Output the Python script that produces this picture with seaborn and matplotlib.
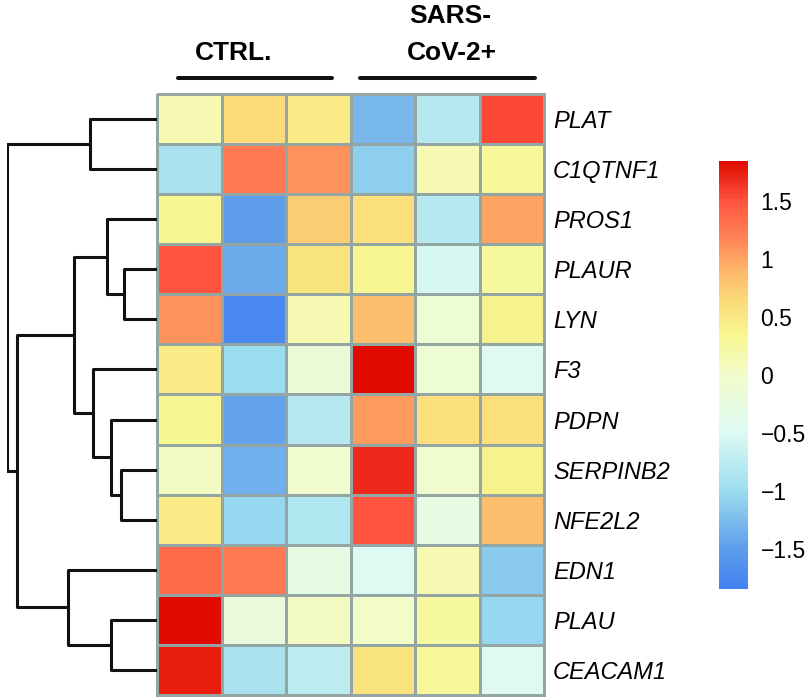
import numpy as np
import pandas as pd
import seaborn as sns
import matplotlib.pyplot as plt
from matplotlib.colors import LinearSegmentedColormap
from matplotlib.lines import Line2D

genes = ["PLAT", "C1QTNF1", "PROS1", "PLAUR", "LYN", "F3", "PDPN",
         "SERPINB2", "NFE2L2", "EDN1", "PLAU", "CEACAM1"]
samples = ["CTRL_1", "CTRL_2", "CTRL_3", "COV_1", "COV_2", "COV_3"]

plat = [0.15, 0.65, 0.45, -1.3, -0.8, 1.55]
c1qtnf1 = [-0.9, 1.25, 1.1, -1.1, 0.15, 0.3]
pros1 = [0.35, -1.5, 0.75, 0.6, -0.8, 1.0]
plaur = [1.5, -1.4, 0.55, 0.35, -0.55, 0.25]
lyn = [1.1, -1.75, 0.15, 0.85, -0.1, 0.4]
f3 = [0.45, -1.0, -0.15, 1.85, -0.1, -0.45]
pdpn = [0.35, -1.45, -0.8, 1.05, 0.6, 0.6]
serpinb2 = [0.05, -1.35, -0.05, 1.7, -0.05, 0.4]
nfe2l2 = [0.45, -1.05, -0.85, 1.5, -0.3, 0.85]
edn1 = [1.35, 1.25, -0.3, -0.5, 0.15, -1.15]
plau = [1.85, -0.2, 0.05, 0.0, 0.25, -1.05]
ceacam1 = [1.75, -0.9, -0.75, 0.55, 0.3, -0.45]

# row dendrogram: (left child, right child, height); leaves 0..11, merges 12..
merges = [(3, 4, 33), (7, 8, 36), (10, 11, 46), (6, 13, 46), (2, 12, 50),
          (5, 15, 64), (0, 1, 67), (16, 17, 83), (9, 14, 89), (19, 20, 140),
          (18, 21, 150)]

cbar_ticks = [-1.5, -1, -0.5, 0, 0.5, 1, 1.5]
cbar_labels = ["\u22121.5", "\u22121", "\u22120.5", "0", "0.5", "1", "1.5"]

data = pd.DataFrame([plat, c1qtnf1, pros1, plaur, lyn, f3, pdpn, serpinb2,
                     nfe2l2, edn1, plau, ceacam1], index=genes, columns=samples)

vmin, vmax = -1.85, 1.85
anchors = [(-1.85, "#4382F2"), (-1.5, "#5E9EEB"), (-1.0, "#9CDDEE"),
           (-0.5, "#DDFAF3"), (0.0, "#F2FCCB"), (0.35, "#F8F690"),
           (0.65, "#FADB78"), (0.9, "#FDB86A"), (1.15, "#FF8A5A"),
           (1.5, "#FF5540"), (1.85, "#E00A00")]
cmap = LinearSegmentedColormap.from_list(
    "expr", [((v - vmin) / (vmax - vmin), c) for v, c in anchors])

W, H = 808, 697
sns.set_style("white")
plt.rcParams['font.family'] = ['Liberation Sans', 'DejaVu Sans']
plt.rcParams['text.color'] = 'black'
plt.rcParams['xtick.color'] = 'black'
plt.rcParams['ytick.color'] = 'black'
fig = plt.figure(figsize=(W / 100, H / 100), dpi=100)


def px(l, t, r, b):
    return [l / W, 1 - b / H, (r - l) / W, (b - t) / H]


ax = fig.add_axes(px(157, 94, 544, 695))
cax = fig.add_axes(px(719, 161, 748, 589))
dax = fig.add_axes(px(7, 94, 157, 695))

sns.heatmap(data, ax=ax, cmap=cmap, vmin=vmin, vmax=vmax, cbar_ax=cax,
            linewidths=1.8, linecolor="#93A6A4", xticklabels=False,
            yticklabels=True)
ax.collections[0].set_clip_on(False)
ax.yaxis.tick_right()
ax.tick_params(axis="y", length=0, pad=6.5, labelsize=17, labelcolor="black")
for t in ax.get_yticklabels():
    t.set_rotation(0)
    t.set_fontstyle("italic")
ax.set_xlabel("")
ax.set_ylabel("")

cbar = ax.collections[0].colorbar
cbar.outline.set_visible(False)
cbar.set_ticks(cbar_ticks)
cbar.set_ticklabels(cbar_labels)
cbar.ax.tick_params(length=0, pad=9, labelsize=16.5, labelcolor="black")

# dendrogram
ypos = {i: i + 0.5 for i in range(len(genes))}
hpos = {i: 0 for i in range(len(genes))}
for k, (a, b, h) in enumerate(merges):
    node = len(genes) + k
    dax.plot([hpos[a], h, h, hpos[b]], [ypos[a], ypos[a], ypos[b], ypos[b]],
             color="#111111", lw=2.2, solid_capstyle="butt")
    ypos[node] = (ypos[a] + ypos[b]) / 2
    hpos[node] = h
dax.set_xlim(150, 0)
dax.set_ylim(len(genes), 0)
dax.axis("off")

# group headers
for (x0, x1) in [(178, 332), (360, 535)]:
    fig.add_artist(Line2D([x0 / W, x1 / W], [1 - 78 / H, 1 - 78 / H],
                          color="#111111", lw=2.9))
fig.text(234 / W, 1 - 60 / H, "CTRL.", ha="center", va="baseline",
         fontsize=19, fontweight="bold")
fig.text(450 / W, 1 - 23 / H, "SARS-", ha="center", va="baseline",
         fontsize=19, fontweight="bold")
fig.text(452 / W, 1 - 60 / H, "CoV-2+", ha="center", va="baseline",
         fontsize=19, fontweight="bold")

fig.savefig("out.png", dpi=100)
